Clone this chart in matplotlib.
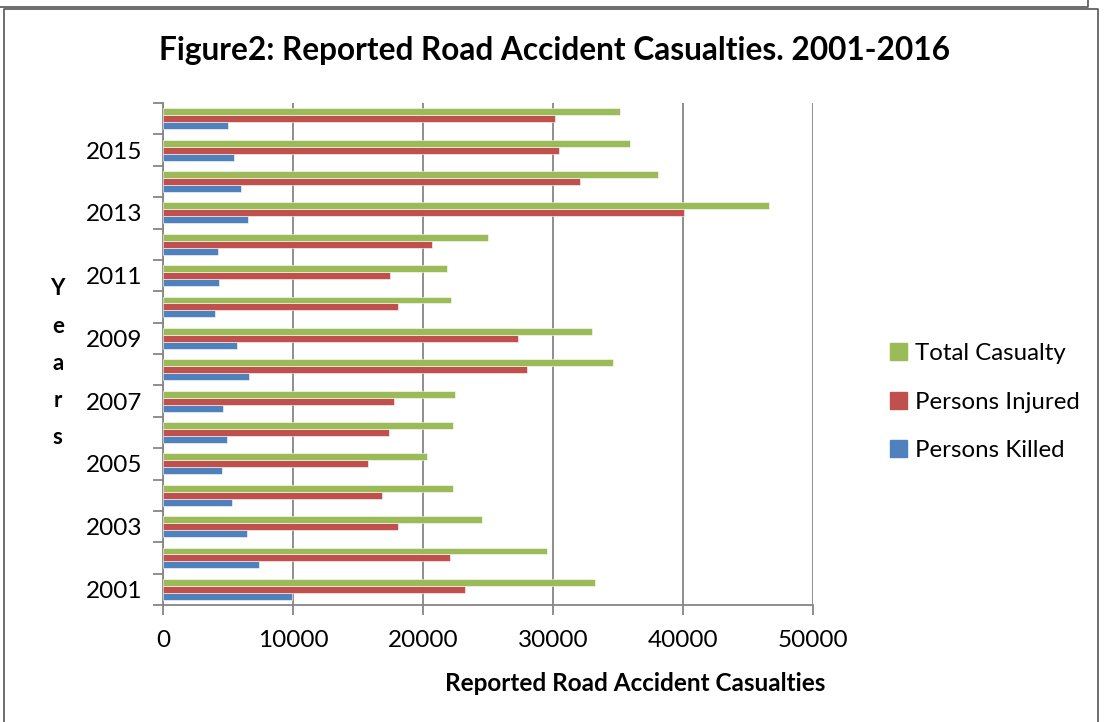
import numpy as np
import matplotlib.pyplot as plt
from matplotlib.lines import Line2D
from matplotlib.patches import Patch

plt.rcParams['font.family'] = ['Lato', 'DejaVu Sans']

years = list(range(2001, 2017))
killed = [9900, 7390, 6430, 5330, 4500, 4910, 4640, 6630, 5670, 4020, 4330, 4260, 6530, 5980, 5430, 5020]
injured = [23230, 22100, 18110, 16870, 15770, 17350, 17770, 28010, 27290, 18080, 17460, 20720, 40100, 32100, 30480, 30140]
total = [33200, 29520, 24570, 22270, 20280, 22340, 22470, 34640, 32990, 22170, 21860, 25020, 46630, 38080, 35950, 35160]

series = [('Persons Killed', killed, '#4F81BD'),
          ('Persons Injured', injured, '#C0504D'),
          ('Total Casualty', total, '#9BBB59')]

fig = plt.figure(figsize=(11.12, 7.22), dpi=100)
ax = fig.add_axes([0.1466, 0.162, 0.5845, 0.6953])

y = np.arange(len(years))
h = 0.222
for i, (name, vals, col) in enumerate(series):
    ax.barh(y + (i - 1) * h, vals, height=h, color=col, edgecolor='white', linewidth=0.4, label=name, zorder=3)

ax.set_xlim(0, 50000)
ax.set_ylim(-0.5, len(years) - 0.5)
ax.set_xticks(np.arange(0, 50001, 10000))
ax.tick_params(axis='x', labelsize=17.5, length=7, width=1.3, color='#868686', pad=11)
ax.xaxis.grid(True, color='#868686', linewidth=1.3, zorder=0)

# ticks between categories, labels on odd years
ax.set_yticks(np.arange(-0.5, len(years), 1.0))
ax.set_yticklabels([])
ax.tick_params(axis='y', length=7, width=1.3, color='#868686')
ax.set_yticks(y[::2], minor=True)
ax.set_yticklabels([str(v) for v in years[::2]], minor=True, fontsize=17.5)
ax.tick_params(axis='y', which='minor', length=0, pad=15)

for s in ['top', 'right']:
    ax.spines[s].set_visible(False)
for s in ['left', 'bottom']:
    ax.spines[s].set_color('#868686')
    ax.spines[s].set_linewidth(1.3)

fig.text(0.499, 0.93, 'Figure2: Reported Road Accident Casualties. 2001-2016',
         ha='center', va='center', fontsize=22.8, fontweight='bold')
fig.text(0.571, 0.053, 'Reported Road Accident Casualties',
         ha='center', va='center', fontsize=17.5, fontweight='bold')
fig.text(0.052, 0.497, 'Y\ne\na\nr\ns', ha='center', va='center',
         fontsize=16, fontweight='bold', linespacing=1.95)

handles = [Patch(color=c) for _, _, c in series[::-1]]
labels = [n for n, _, _ in series[::-1]]
fig.legend(handles, labels, loc='center left', bbox_to_anchor=(0.79, 0.443),
           frameon=False, fontsize=17.3, handlelength=0.7, handleheight=0.7,
           handletextpad=0.3, labelspacing=1.15, borderpad=0)

# chart frame
fig.add_artist(Line2D([0.004, 0.004, 0.987, 0.987], [0.0, 0.987, 0.987, 0.0], color='#555555', lw=1.2))
fig.add_artist(Line2D([0.0, 0.978, 0.978], [0.99, 0.99, 1.0], color='#555555', lw=1.2))

fig.savefig('out.png', dpi=100)
